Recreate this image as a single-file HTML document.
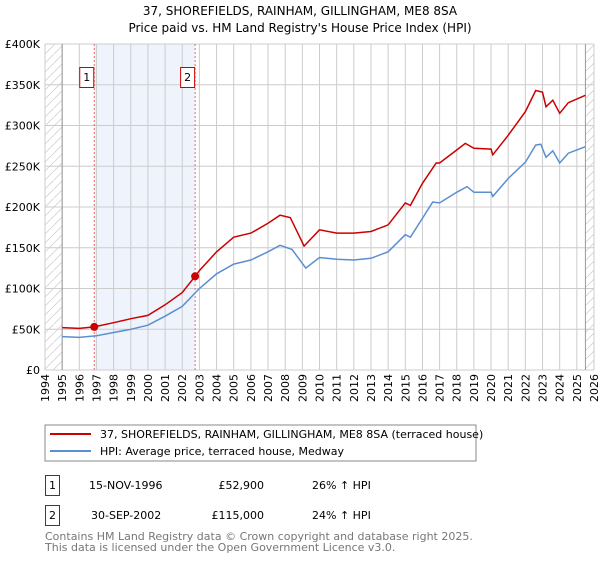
<!DOCTYPE html>
<html><head><meta charset="utf-8"><style>
body{margin:0;background:#fff;width:600px;height:560px;overflow:hidden}
svg text{font-family:"DejaVu Sans","Liberation Sans",sans-serif}
</style></head><body>
<svg id="s" width="600" height="560" xmlns="http://www.w3.org/2000/svg">
<defs><pattern id="h" width="9" height="9" patternUnits="userSpaceOnUse"><path d="M0,9 L9,0" stroke="#ccc" stroke-width="0.7"/></pattern></defs>
<text x="300" y="15" text-anchor="middle" font-size="12">37, SHOREFIELDS, RAINHAM, GILLINGHAM, ME8 8SA</text>
<text x="300" y="32" text-anchor="middle" font-size="12">Price paid vs. HM Land Registry's House Price Index (HPI)</text>
<g id="g"></g>
<rect x="45" y="425" width="431" height="36" fill="none" stroke="#888"/>
<line x1="50" y1="434" x2="91" y2="434" stroke="#cc0000" stroke-width="2"/>
<line x1="50" y1="451" x2="91" y2="451" stroke="#5b8fd0" stroke-width="2"/>
<text x="100" y="438" font-size="11">37, SHOREFIELDS, RAINHAM, GILLINGHAM, ME8 8SA (terraced house)</text>
<text x="100" y="455" font-size="11">HPI: Average price, terraced house, Medway</text>
<rect x="45.5" y="475.5" width="14" height="20" fill="none" stroke="#cc0000"/>
<text x="52.5" y="489" font-size="11" text-anchor="middle">1</text>
<text x="89" y="489" font-size="11">15-NOV-1996</text>
<text x="264" y="489" font-size="11" text-anchor="end">£52,900</text>
<text x="312" y="489" font-size="11">26% ↑ HPI</text>
<rect x="45.5" y="505.5" width="14" height="20" fill="none" stroke="#cc0000"/>
<text x="52.5" y="519" font-size="11" text-anchor="middle">2</text>
<text x="91" y="519" font-size="11">30-SEP-2002</text>
<text x="264" y="519" font-size="11" text-anchor="end">£115,000</text>
<text x="312" y="519" font-size="11">24% ↑ HPI</text>
<text x="45" y="540" font-size="11" fill="#777">Contains HM Land Registry data © Crown copyright and database right 2025.</text>
<text x="45" y="551" font-size="11" fill="#777">This data is licensed under the Open Government Licence v3.0.</text>
</svg>
<script>
var X=function(y){return 45+(y-1994)*17.156},Y=function(v){return 370-v*0.000815};
var o='';
o+='<rect x="'+X(1996.87)+'" y="44" width="'+(X(2002.75)-X(1996.87))+'" height="326" fill="#eef3fc"/>';
o+='<rect x="45" y="44" width="'+(X(1995)-45)+'" height="326" fill="url(#h)"/>';
o+='<rect x="'+X(2025.5)+'" y="44" width="'+(594-X(2025.5))+'" height="326" fill="url(#h)"/>';
for(var yr=1994;yr<=2026;yr++){var x=X(yr);o+='<line x1="'+x+'" y1="44" x2="'+x+'" y2="370" stroke="#ccc"/>';
o+='<text transform="translate('+(x+4)+',374) rotate(-90)" text-anchor="end" font-size="11">'+yr+'</text>';}
for(var v=0;v<=400000;v+=50000){var y=Y(v);o+='<line x1="45" y1="'+y+'" x2="594" y2="'+y+'" stroke="#ccc"/>';
o+='<text x="40" y="'+(y+4)+'" text-anchor="end" font-size="11">'+(v?'£'+v/1000+'K':'£0')+'</text>';}
o+='<line x1="'+X(1995)+'" y1="44" x2="'+X(1995)+'" y2="370" stroke="#999"/>';
o+='<line x1="'+X(2025.5)+'" y1="44" x2="'+X(2025.5)+'" y2="370" stroke="#999"/>';
[[1996.87,1],[2002.75,2]].forEach(function(a){var x=X(a[0]);o+='<line x1="'+x+'" y1="44" x2="'+x+'" y2="370" stroke="#e66" stroke-dasharray="2,2"/>';
o+='<rect x="'+(x-14.5)+'" y="67.5" width="14" height="20" fill="#fff" stroke="#cc0000"/><text x="'+(x-7.5)+'" y="81" text-anchor="middle" font-size="11">'+a[1]+'</text>';});
var blue=[[1995,41],[1996,40],[1997,42],[1998,46],[1999,50],[2000,55],[2001,66],[2002,78],[2003,100],[2004,118],[2005,130],[2006,135],[2007,145],[2007.7,153],[2008.4,148],[2009.2,125],[2010,138],[2011,136],[2012,135],[2013,137],[2014,145],[2015,166],[2015.3,163],[2016,186],[2016.6,206],[2017,205],[2018,218],[2018.6,225],[2019,218],[2020,218],[2020.1,213],[2021,235],[2022,255],[2022.6,276],[2022.9,277],[2023.2,261],[2023.6,269],[2024,254],[2024.5,266],[2025.5,274]];
var red=[[1995,52],[1996,51],[1996.87,52.9],[1998,58],[1999,63],[2000,67],[2001,80],[2002,95],[2002.75,115],[2003,122],[2004,145],[2005,163],[2006,168],[2007,180],[2007.7,190],[2008.3,187],[2009.1,152],[2010,172],[2011,168],[2012,168],[2013,170],[2014,178],[2015,205],[2015.3,202],[2016,229],[2016.8,254],[2017,254],[2018,270],[2018.5,278],[2019,272],[2020,271],[2020.1,264],[2021,288],[2022,317],[2022.6,343],[2023,341],[2023.2,323],[2023.6,331],[2024,315],[2024.5,328],[2025.5,337]];
function p(d,c){return '<polyline fill="none" stroke="'+c+'" stroke-width="1.5" points="'+d.map(function(a){return X(a[0]).toFixed(1)+','+Y(a[1]*1000).toFixed(1)}).join(' ')+'"/>';}
o+=p(blue,'#5b8fd0')+p(red,'#cc0000');
o+='<circle cx="'+X(1996.87)+'" cy="'+Y(52900)+'" r="4" fill="#cc0000"/><circle cx="'+X(2002.75)+'" cy="'+Y(115000)+'" r="4" fill="#cc0000"/>';
document.getElementById('g').innerHTML=o;
</script>
</body></html>
